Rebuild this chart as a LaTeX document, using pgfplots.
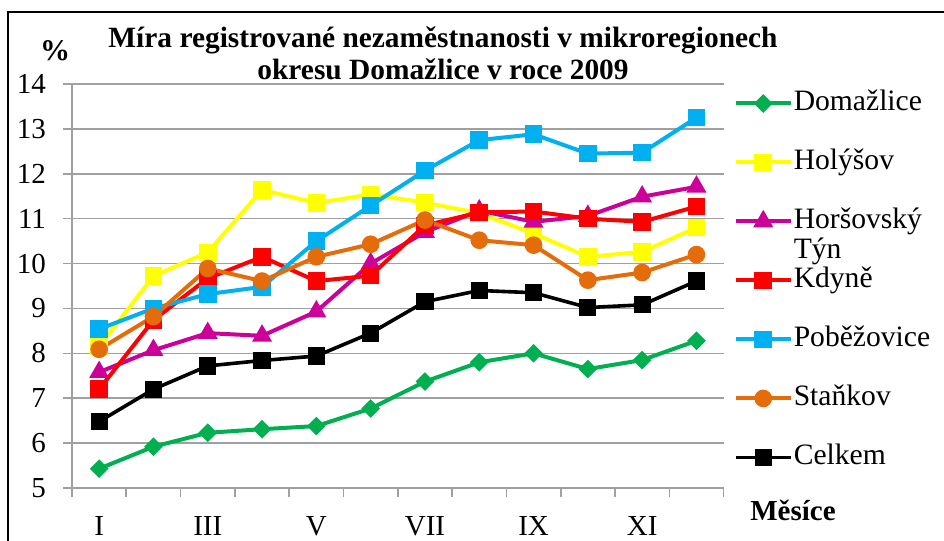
\documentclass[border=0pt]{standalone}
\usepackage{pgfplots}
\pgfplotsset{compat=1.18}
\usepackage{fontspec}
\setmainfont{Liberation Serif}
\definecolor{cgreen}{RGB}{0,176,80}
\definecolor{cyellow}{RGB}{255,255,0}
\definecolor{cmag}{RGB}{204,0,153}
\definecolor{cred}{RGB}{255,0,0}
\definecolor{cblue}{RGB}{0,176,240}
\definecolor{corange}{RGB}{228,108,10}
\definecolor{gridc}{RGB}{160,160,160}
\begin{document}
\begin{tikzpicture}
\useasboundingbox (0,0) rectangle (472pt,270.5pt);
\draw[line width=1.1pt] (4pt,-2pt) -- (4pt,264.5pt) -- (474pt,264.5pt);
\node[align=center,font=\fontsize{14.7}{16.3}\selectfont\bfseries] at (221.5pt,243.8pt) {Míra registrované nezaměstnanosti v mikroregionech\\okresu Domažlice v roce 2009};
\node[font=\fontsize{15}{17}\selectfont\bfseries] at (27.5pt,245pt) {\%};
\node[font=\fontsize{14.5}{16}\selectfont\bfseries] at (396.5pt,15.5pt) {Měsíce};
\begin{axis}[
  at={(36pt,26.5pt)}, anchor=south west,
  scale only axis, width=325.8pt, height=202pt,
  xmin=0.5, xmax=12.5, ymin=5, ymax=14,
  ytick={5,...,14},
  xtick={0.5,1.5,...,12.5}, xticklabels={},
  extra x ticks={1,3,5,7,9,11},
  extra x tick labels={I,III,V,VII,IX,XI},
  extra x tick style={major tick length=0pt, xticklabel style={yshift=-10.5pt}},
  axis x line*=bottom, axis y line*=left,
  axis line style={gridc, line width=0.8pt, -},
  tick style={gridc, line width=0.8pt},
  tick align=outside, major tick length=4.5pt,
  ymajorgrids, grid style={gridc, line width=0.8pt},
  ticklabel style={font=\fontsize{14.5}{16}\selectfont},
  yticklabel style={xshift=-5pt},
  /pgf/number format/assume math mode=true,
  legend cell align=left,
  legend style={at={(1.015,0.985)}, anchor=north west, draw=none, fill=none,
    inner sep=0pt, row sep=16.5pt, column sep=0.5pt,
    nodes={inner sep=0pt, text height=10pt, text depth=3pt, font=\fontsize{14.8}{16.5}\selectfont}},
  legend image code/.code={\draw[mark repeat=2,mark phase=2] plot coordinates {(0pt,0pt) (13.75pt,0pt) (27.5pt,0pt)};},
  every axis plot/.append style={line width=2pt},
]
\addplot[cgreen, mark=square*, mark size=2.3pt, mark options={rotate=45, solid}] coordinates {
(1,5.43) (2,5.92) (3,6.23) (4,6.31) (5,6.38) (6,6.77) (7,7.37) (8,7.80) (9,8.00) (10,7.65) (11,7.85) (12,8.28)};
\addlegendentry{Domažlice}
\addplot[cyellow, mark=square*, mark size=3.4pt] coordinates {
(1,8.15) (2,9.72) (3,10.25) (4,11.64) (5,11.35) (6,11.54) (7,11.36) (8,11.12) (9,10.67) (10,10.15) (11,10.26) (12,10.80)};
\addlegendentry{Holýšov}
\addplot[cmag, mark=triangle*, mark size=3.8pt] coordinates {
(1,7.58) (2,8.07) (3,8.45) (4,8.39) (5,8.93) (6,10.0) (7,10.70) (8,11.18) (9,10.93) (10,11.06) (11,11.49) (12,11.71)};
\addlegendentry{\smash{\begin{tabular}[t]{@{}l@{}}Horšovský\\[-1.5pt]Týn\end{tabular}}}
\addplot[cred, mark=square*, mark size=3.4pt] coordinates {
(1,7.20) (2,8.74) (3,9.67) (4,10.15) (5,9.61) (6,9.73) (7,10.85) (8,11.14) (9,11.16) (10,11.00) (11,10.93) (12,11.27)};
\addlegendentry{Kdyně}
\addplot[cblue, mark=square*, mark size=3.4pt] coordinates {
(1,8.54) (2,9.00) (3,9.32) (4,9.48) (5,10.50) (6,11.29) (7,12.07) (8,12.75) (9,12.88) (10,12.45) (11,12.47) (12,13.25)};
\addlegendentry{Poběžovice}
\addplot[corange, mark=*, mark size=3.4pt] coordinates {
(1,8.09) (2,8.82) (3,9.89) (4,9.61) (5,10.15) (6,10.43) (7,10.97) (8,10.52) (9,10.41) (10,9.63) (11,9.80) (12,10.20)};
\addlegendentry{Staňkov}
\addplot[black, line width=1.8pt, mark=square*, mark size=3.4pt] coordinates {
(1,6.48) (2,7.20) (3,7.72) (4,7.84) (5,7.94) (6,8.45) (7,9.15) (8,9.40) (9,9.35) (10,9.02) (11,9.08) (12,9.61)};
\addlegendentry{Celkem}
\end{axis}
\end{tikzpicture}
\end{document}
